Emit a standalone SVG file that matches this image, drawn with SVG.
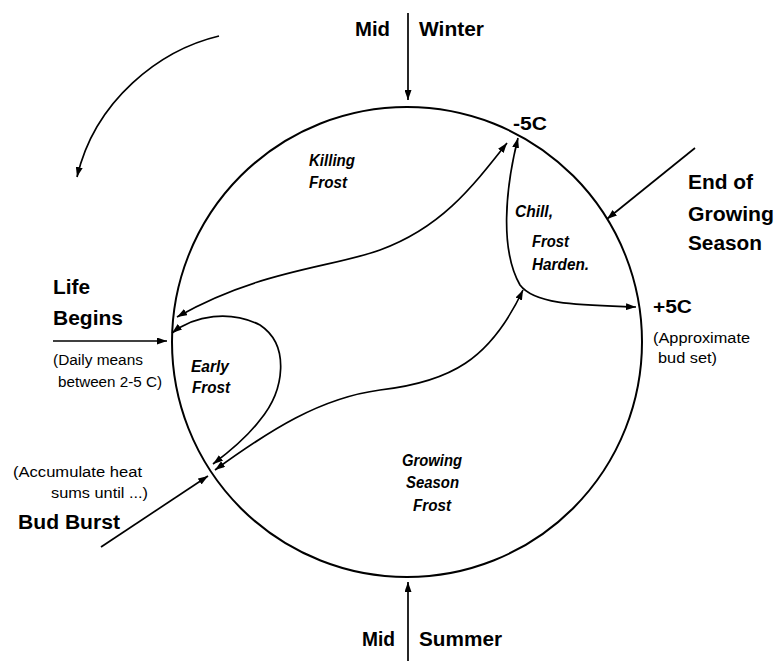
<svg xmlns="http://www.w3.org/2000/svg" width="775" height="661" viewBox="0 0 775 661">
<defs>
<marker id="ah" viewBox="0 0 10 7" refX="10" refY="3.5" markerWidth="10" markerHeight="7" markerUnits="userSpaceOnUse" orient="auto-start-reverse">
<path d="M0,0 L10,3.5 L0,7 z" fill="#000"/>
</marker>
<style>
.ln{fill:none;stroke:#000;stroke-width:1.7}
.ar{marker-end:url(#ah)}
.dbl{marker-start:url(#ah);marker-end:url(#ah)}
.b{font-family:"Liberation Sans",Arial,sans-serif;font-weight:bold;font-size:20px;fill:#000}
.r{font-family:"Liberation Sans",Arial,sans-serif;font-size:14px;fill:#000}
.i{font-family:"Liberation Sans",Arial,sans-serif;font-weight:bold;font-style:italic;font-size:16px;fill:#000}
</style>
</defs>
<rect width="775" height="661" fill="#fff"/>
<g id="cycle">
<circle cx="407" cy="342" r="235" fill="none" stroke="#000" stroke-width="2"/>
</g>
<g id="connectors">
<path class="ln ar" d="M408,13 L408,100"/>
<path class="ln ar" d="M408,661 L408,582"/>
<path class="ln ar" d="M53,341 L167,341"/>
<path class="ln ar" d="M101,547 L208,476"/>
<path class="ln ar" d="M695,148 L607,219"/>
<path class="ln ar" d="M219,36 C160,50 95,100 77,177"/>
<path class="ln dbl" d="M177,317 C260,270 330,268 380,250 C440,228 470,190 507,143"/>
<path class="ln dbl" d="M172,333 C195,315 230,310 260,325 C290,345 285,390 260,420 C245,440 225,455 213,464"/>
<path class="ln dbl" d="M215,470 C270,430 320,398 380,390 C450,382 490,360 523,290"/>
<path class="ln dbl" d="M518,138 C505,190 500,250 520,285 C535,305 580,305 636,307"/>
</g>
<g id="mid-winter">
<text class="b" x="355" y="36" textLength="35" lengthAdjust="spacingAndGlyphs">Mid</text>
<text class="b" x="419" y="36" textLength="65" lengthAdjust="spacingAndGlyphs">Winter</text>
</g>
<g id="mid-summer">
<text class="b" x="362" y="646" textLength="33" lengthAdjust="spacingAndGlyphs">Mid</text>
<text class="b" x="419" y="646" textLength="83" lengthAdjust="spacingAndGlyphs">Summer</text>
</g>
<g id="minus5c">
<text class="b" x="513" y="130" style="font-size:18px" textLength="34" lengthAdjust="spacingAndGlyphs">-5C</text>
</g>
<g id="plus5c">
<text class="b" x="653" y="313" style="font-size:19px" textLength="39" lengthAdjust="spacingAndGlyphs">+5C</text>
<text class="r" x="653" y="343" textLength="97" lengthAdjust="spacingAndGlyphs">(Approximate</text>
<text class="r" x="658" y="363" textLength="59" lengthAdjust="spacingAndGlyphs">bud set)</text>
</g>
<g id="end-of-growing-season">
<text class="b" x="688" y="189" textLength="65" lengthAdjust="spacingAndGlyphs">End of</text>
<text class="b" x="688" y="221" textLength="86" lengthAdjust="spacingAndGlyphs">Growing</text>
<text class="b" x="688" y="250" textLength="74" lengthAdjust="spacingAndGlyphs">Season</text>
</g>
<g id="life-begins">
<text class="b" x="53" y="294" textLength="37" lengthAdjust="spacingAndGlyphs">Life</text>
<text class="b" x="53" y="325" textLength="70" lengthAdjust="spacingAndGlyphs">Begins</text>
<text class="r" x="53" y="365" textLength="90" lengthAdjust="spacingAndGlyphs">(Daily means</text>
<text class="r" x="58" y="387" textLength="104" lengthAdjust="spacingAndGlyphs">between 2-5 C)</text>
</g>
<g id="bud-burst">
<text class="r" x="13" y="477" textLength="129" lengthAdjust="spacingAndGlyphs">(Accumulate heat</text>
<text class="r" x="51" y="498" textLength="97" lengthAdjust="spacingAndGlyphs">sums until ...)</text>
<text class="b" x="18" y="529" textLength="102" lengthAdjust="spacingAndGlyphs">Bud Burst</text>
</g>
<g id="killing-frost">
<text class="i" x="309" y="166" textLength="46" lengthAdjust="spacingAndGlyphs">Killing</text>
<text class="i" x="309" y="188" textLength="38" lengthAdjust="spacingAndGlyphs">Frost</text>
</g>
<g id="chill-frost-harden">
<text class="i" x="515" y="217" textLength="38" lengthAdjust="spacingAndGlyphs">Chill,</text>
<text class="i" x="532" y="247" textLength="37" lengthAdjust="spacingAndGlyphs">Frost</text>
<text class="i" x="532" y="270" textLength="57" lengthAdjust="spacingAndGlyphs">Harden.</text>
</g>
<g id="early-frost">
<text class="i" x="191" y="372" textLength="38" lengthAdjust="spacingAndGlyphs">Early</text>
<text class="i" x="192" y="393" textLength="38" lengthAdjust="spacingAndGlyphs">Frost</text>
</g>
<g id="growing-season-frost">
<text class="i" x="402" y="466" textLength="60" lengthAdjust="spacingAndGlyphs">Growing</text>
<text class="i" x="406" y="488" textLength="53" lengthAdjust="spacingAndGlyphs">Season</text>
<text class="i" x="413" y="511" textLength="38" lengthAdjust="spacingAndGlyphs">Frost</text>
</g>
</svg>
